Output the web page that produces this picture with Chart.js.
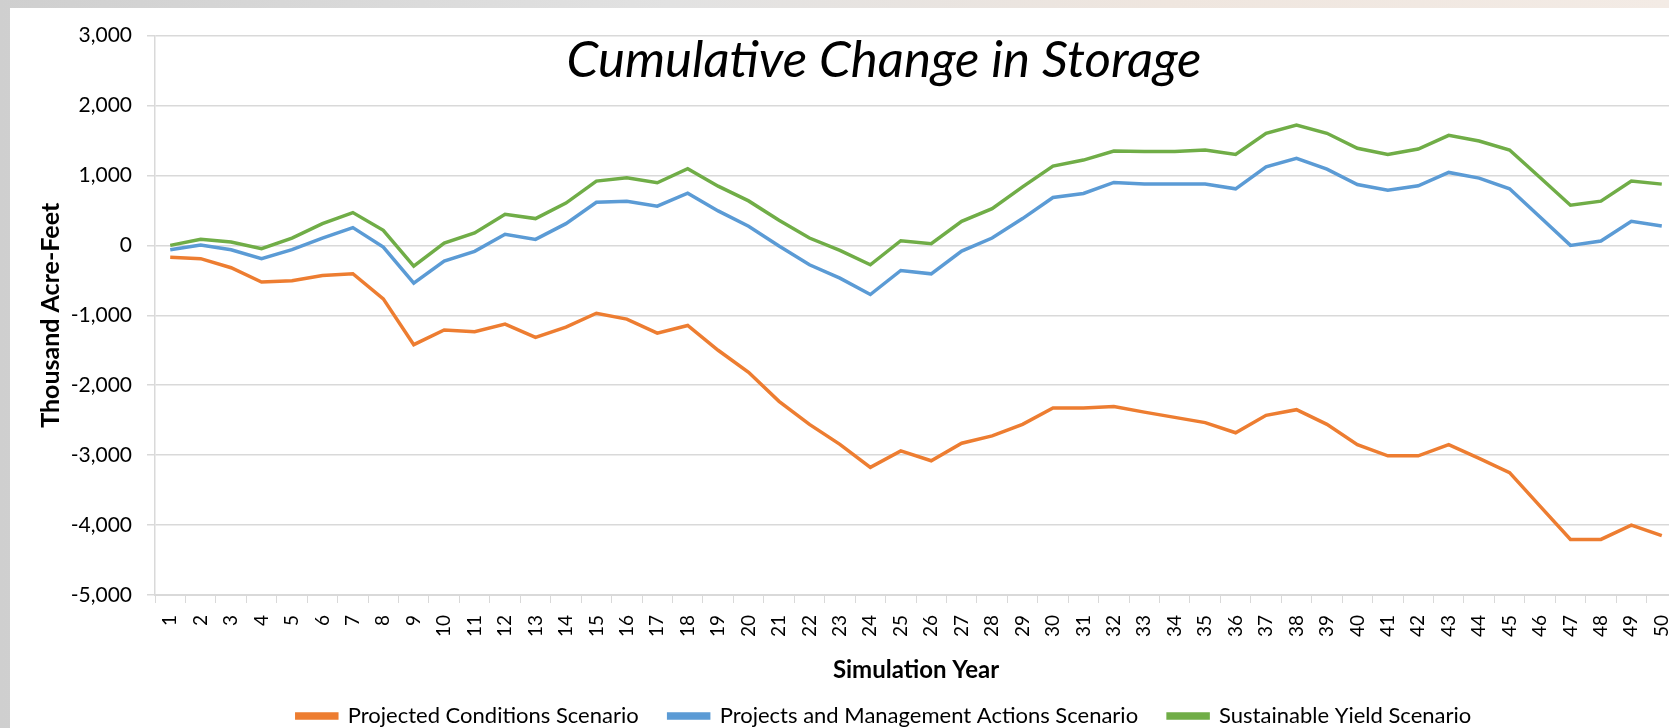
<!DOCTYPE html>
<html>
<head>
<meta charset="utf-8">
<title>Cumulative Change in Storage</title>
<script src="https://cdn.jsdelivr.net/npm/chart.js@4"></script>
<style>
  html, body { margin: 0; padding: 0; overflow: hidden; }
  body {
    width: 1669px; height: 728px;
    background: linear-gradient(90deg, #cfcfcf 0%, #e2e2e2 40%, #efe6df 70%, #f3ebe5 100%);
    position: relative;
  }
  .chart-container {
    position: absolute; left: 10px; top: 8px;
    width: 1748px; height: 729px;
    background: #ffffff;
  }
</style>
</head>
<body>
<div class="chart-container">
  <canvas id="myChart"></canvas>
</div>
<script>
const years = [];
for (let i = 1; i <= 50; i++) years.push(String(i));

const projectedConditions = [
  -170, -190, -320, -525, -505, -430, -405, -765, -1420, -1210,
  -1235, -1125, -1315, -1170, -970, -1055, -1255, -1145, -1500, -1815,
  -2230, -2560, -2845, -3175, -2940, -3080, -2830, -2725, -2560, -2325,
  -2325, -2305, -2385, -2460, -2535, -2680, -2430, -2350, -2560, -2850,
  -3010, -3010, -2850, -3045, -3250, -3730, -4205, -4205, -4000, -4150
];
const projectsAndManagement = [
  -62, 5, -62, -191, -62, 105, 254, -24, -541, -225,
  -86, 158, 86, 311, 617, 632, 560, 746, 493, 273,
  -10, -278, -469, -703, -359, -407, -81, 105, 383, 684,
  742, 900, 876, 876, 876, 809, 1124, 1244, 1091, 871,
  789, 852, 1043, 962, 809, 407, 0, 62, 344, 278
];
const sustainableYield = [
  0, 86, 48, -48, 105, 311, 469, 215, -297, 33,
  177, 445, 383, 605, 919, 967, 895, 1096, 847, 636,
  359, 105, -72, -278, 67, 24, 344, 526, 837, 1134,
  1220, 1349, 1344, 1344, 1364, 1301, 1603, 1722, 1603, 1388,
  1301, 1378, 1574, 1493, 1364, 971, 574, 632, 919, 876
];

const FONT = "Lato, Carlito, 'Open Sans', sans-serif";

// title sits inside the plot area, like the Excel chart
const overlayTitle = {
  id: "overlayTitle",
  afterDraw(chart) {
    const ctx = chart.ctx;
    ctx.save();
    ctx.font = "italic 51px " + FONT;
    ctx.fillStyle = "#000000";
    ctx.textAlign = "center";
    ctx.textBaseline = "alphabetic";
    ctx.fillText("Cumulative Change in Storage", chart.width / 2, 69);
    ctx.restore();
  },
};

const data = {
  labels: years,
  datasets: [
    {
      label: "Projected Conditions Scenario",
      data: projectedConditions,
      borderColor: "#ED7D31",
      backgroundColor: "#ED7D31",
    },
    {
      label: "Projects and Management Actions Scenario",
      data: projectsAndManagement,
      borderColor: "#5B9BD5",
      backgroundColor: "#5B9BD5",
    },
    {
      label: "Sustainable Yield Scenario",
      data: sustainableYield,
      borderColor: "#70AD47",
      backgroundColor: "#70AD47",
    },
  ],
};

const config = {
  type: "line",
  data: data,
  plugins: [overlayTitle],
  options: {
    responsive: true,
    maintainAspectRatio: false,
    animation: false,
    layout: {
      padding: { top: 24, left: 0, right: 0, bottom: 0 },
    },
    elements: {
      line: { borderWidth: 3.5, tension: 0 },
      point: { radius: 0 },
    },
    plugins: {
      legend: {
        position: "bottom",
        labels: {
          font: { family: FONT, size: 22 },
          color: "#000000",
          boxWidth: 40,
          boxHeight: 4,
          padding: 30,
        },
      },
      tooltip: { enabled: false },
    },
    scales: {
      x: {
        offset: true,
        afterFit: (scale) => { scale.height = 80; },
        grid: {
          offset: true,
          drawOnChartArea: false,
          color: "#d9d9d9",
          tickLength: 8,
        },
        border: { color: "#d9d9d9", width: 2 },
        ticks: {
          autoSkip: false,
          maxRotation: 90,
          minRotation: 90,
          padding: 12,
          color: "#000000",
          font: { family: FONT, size: 19 },
        },
        title: {
          display: true,
          text: "Simulation Year",
          color: "#000000",
          font: { family: FONT, size: 24, weight: "bold" },
          padding: { top: 0, bottom: -10 },
        },
      },
      y: {
        min: -5000,
        max: 3000,
        afterFit: (scale) => { scale.width = 145; },
        grid: {
          color: "#d9d9d9",
          lineWidth: 1.5,
          tickLength: 8,
        },
        border: { color: "#d9d9d9", width: 1.5 },
        ticks: {
          stepSize: 1000,
          padding: 15,
          color: "#000000",
          font: { family: FONT, size: 21 },
          callback: (v) => v.toLocaleString("en-US"),
        },
        title: {
          display: true,
          text: "Thousand Acre-Feet",
          color: "#000000",
          font: { family: FONT, size: 25, weight: "bold" },
          padding: { top: 26, bottom: 4 },
        },
      },
      // empty right-hand space of the Excel chart area
      spacer: {
        position: "right",
        afterFit: (scale) => { scale.width = 81; },
        grid: { display: false },
        border: { display: false },
        ticks: { display: false },
      },
    },
  },
};

new Chart(document.getElementById("myChart"), config);
</script>
</body>
</html>
